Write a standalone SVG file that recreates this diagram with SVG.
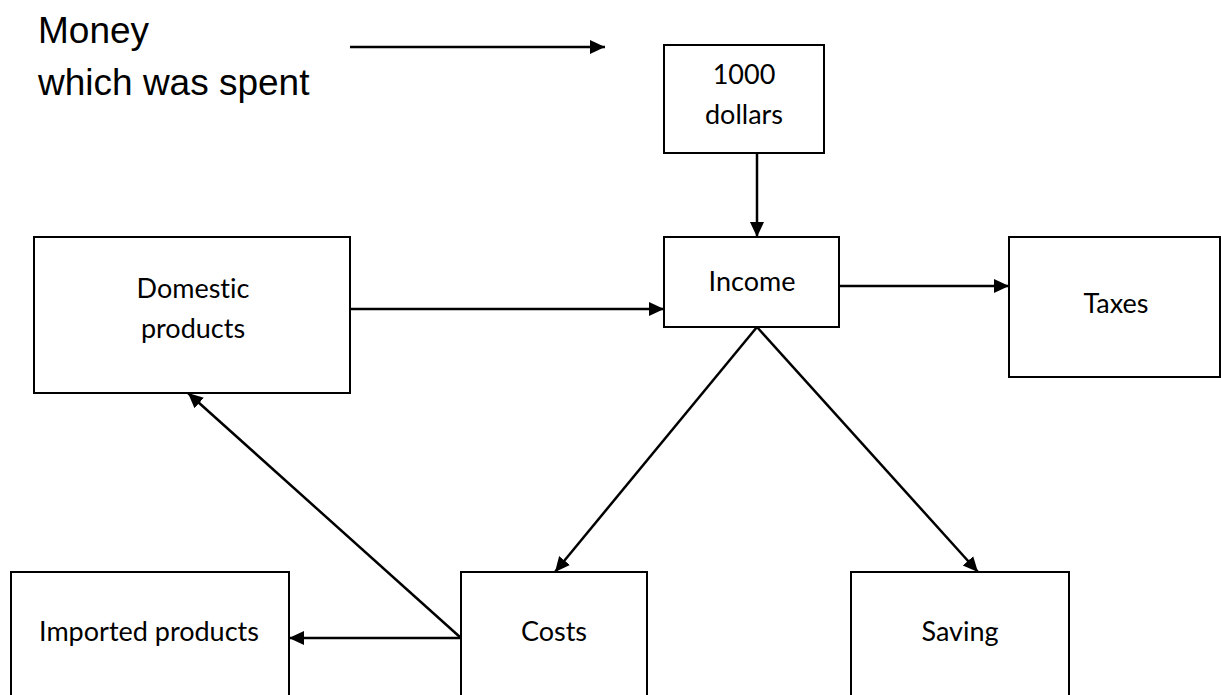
<svg xmlns="http://www.w3.org/2000/svg" width="1221" height="695" viewBox="0 0 1221 695">
<style>
.box{fill:#fff;stroke:#000;stroke-width:2}
.lbl{font-family:Lato,"Liberation Sans",sans-serif;font-size:27px;fill:#000;text-anchor:middle;font-variant-ligatures:none}
.title{font-family:"Liberation Sans",Arial,sans-serif;font-size:37px;fill:#000}
.con{stroke:#000;stroke-width:2.5;fill:none;marker-end:url(#ah)}
</style>
<defs>
<marker id="ah" markerUnits="userSpaceOnUse" markerWidth="16" markerHeight="16" refX="15" refY="7" orient="auto" viewBox="0 0 16 14">
<path d="M0,0 L15,7 L0,14 z" fill="#000"/>
</marker>
</defs>
<rect width="1221" height="695" fill="#fff"/>
<g id="legend">
<text class="title" x="38" y="43">Money</text>
<text class="title" x="38" y="95">which was spent</text>
</g>
<g id="node-dollars"><rect class="box" x="664" y="45" width="160" height="108"/><text class="lbl" x="744" y="84">1000</text><text class="lbl" x="744" y="124">dollars</text></g>
<g id="node-income"><rect class="box" x="664" y="237" width="175" height="90"/><text class="lbl" x="752" y="291">Income</text></g>
<g id="node-domestic"><rect class="box" x="34" y="237" width="316" height="156"/><text class="lbl" x="193" y="298">Domestic</text><text class="lbl" x="193" y="338">products</text></g>
<g id="node-taxes"><rect class="box" x="1009" y="237" width="211" height="140"/><text class="lbl" x="1116" y="313">Taxes</text></g>
<g id="node-imported"><rect class="box" x="11" y="572" width="278" height="130"/><text class="lbl" x="149" y="641">Imported products</text></g>
<g id="node-costs"><rect class="box" x="461" y="572" width="186" height="130"/><text class="lbl" x="554" y="641">Costs</text></g>
<g id="node-saving"><rect class="box" x="851" y="572" width="218" height="130"/><text class="lbl" x="960" y="641">Saving</text></g>
<g id="connectors">
<line class="con" x1="350" y1="47" x2="605" y2="47"/>
<line class="con" x1="757" y1="153" x2="757" y2="237"/>
<line class="con" x1="350" y1="309" x2="664" y2="309"/>
<line class="con" x1="839" y1="286" x2="1009" y2="286"/>
<line class="con" x1="757" y1="327" x2="555" y2="572"/>
<line class="con" x1="757" y1="327" x2="978" y2="572"/>
<line class="con" x1="461" y1="638" x2="289" y2="638"/>
<line class="con" x1="461" y1="638" x2="188" y2="393"/>
</g>
</svg>
